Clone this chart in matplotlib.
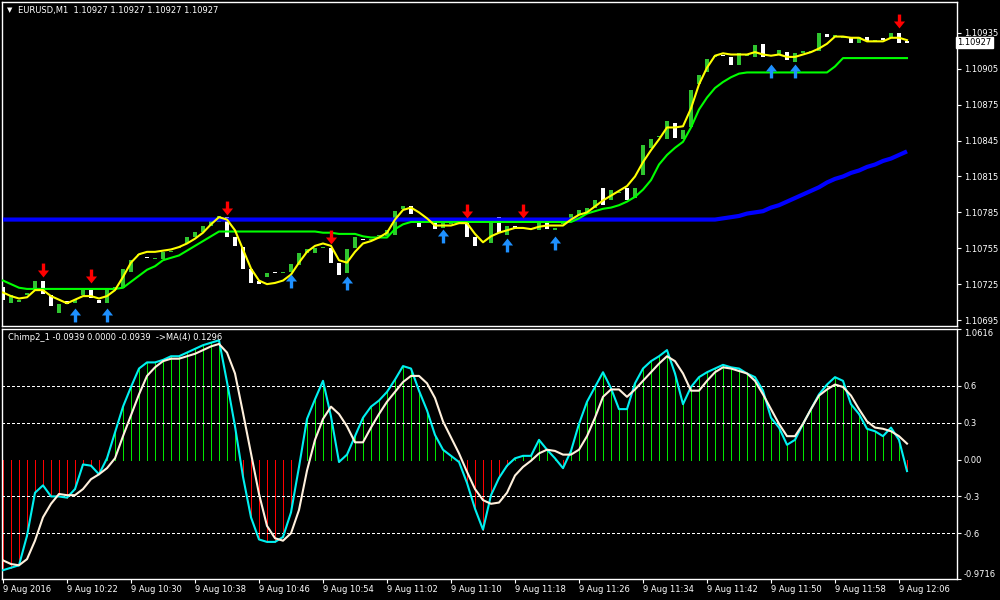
import numpy as np
import matplotlib.pyplot as plt
from matplotlib.path import Path

# EURUSD M1 chart with Chimp2 oscillator (MT4 style, black theme)

tick_labels = ['9 Aug 2016', '9 Aug 10:22', '9 Aug 10:30', '9 Aug 10:38', '9 Aug 10:46',
               '9 Aug 10:54', '9 Aug 11:02', '9 Aug 11:10', '9 Aug 11:18', '9 Aug 11:26',
               '9 Aug 11:34', '9 Aug 11:42', '9 Aug 11:50', '9 Aug 11:58', '9 Aug 12:06']

opens = [1.10723, 1.10709, 1.10710, 1.10716, 1.10721, 1.10728, 1.10716, 1.10701, 1.10711, 1.10709,
         1.10716, 1.10720, 1.10712, 1.10709, 1.10720, 1.10722, 1.10735, 1.10749, 1.10748, 1.10746,
         1.10746, 1.10752, 1.10755, 1.10759, 1.10764, 1.10769, 1.10774, 1.10777, 1.10781, 1.10764,
         1.10756, 1.10738, 1.10728, 1.10731, 1.10735, 1.10734, 1.10735, 1.10741, 1.10751, 1.10751,
         1.10755, 1.10755, 1.10743, 1.10734, 1.10755, 1.10763, 1.10762, 1.10765, 1.10765, 1.10766,
         1.10788, 1.10790, 1.10780, 1.10778, 1.10776, 1.10772, 1.10775, 1.10777, 1.10777, 1.10764,
         1.10760, 1.10759, 1.10781, 1.10766, 1.10774, 1.10771, 1.10771, 1.10770, 1.10777, 1.10770,
         1.10775, 1.10779, 1.10783, 1.10785, 1.10789, 1.10805, 1.10795, 1.10801, 1.10805, 1.10797,
         1.10816, 1.10839, 1.10848, 1.10846, 1.10860, 1.10846, 1.10856, 1.10892, 1.10902, 1.10915,
         1.10917, 1.10915, 1.10908, 1.10916, 1.10915, 1.10926, 1.10916, 1.10917, 1.10919, 1.10911,
         1.10918, 1.10919, 1.10920, 1.10934, 1.10932, 1.10931, 1.10932, 1.10927, 1.10932, 1.10928,
         1.10931, 1.10931, 1.10935, 1.10927]
closes = [1.10712, 1.10716, 1.10712, 1.10718, 1.10728, 1.10717, 1.10707, 1.10708, 1.10708, 1.10712,
          1.10720, 1.10713, 1.10709, 1.10721, 1.10723, 1.10738, 1.10745, 1.10750, 1.10747, 1.10747,
          1.10752, 1.10753, 1.10756, 1.10764, 1.10769, 1.10774, 1.10779, 1.10782, 1.10764, 1.10757,
          1.10738, 1.10726, 1.10725, 1.10734, 1.10734, 1.10735, 1.10742, 1.10751, 1.10754, 1.10755,
          1.10756, 1.10743, 1.10733, 1.10754, 1.10764, 1.10762, 1.10763, 1.10766, 1.10770, 1.10786,
          1.10790, 1.10784, 1.10773, 1.10777, 1.10771, 1.10777, 1.10776, 1.10778, 1.10764, 1.10757,
          1.10761, 1.10777, 1.10768, 1.10774, 1.10772, 1.10772, 1.10772, 1.10777, 1.10771, 1.10772,
          1.10776, 1.10784, 1.10787, 1.10789, 1.10795, 1.10791, 1.10804, 1.10802, 1.10795, 1.10805,
          1.10841, 1.10846, 1.10849, 1.10861, 1.10847, 1.10854, 1.10887, 1.10900, 1.10913, 1.10916,
          1.10916, 1.10908, 1.10918, 1.10917, 1.10925, 1.10915, 1.10917, 1.10921, 1.10912, 1.10918,
          1.10920, 1.10920, 1.10935, 1.10932, 1.10933, 1.10932, 1.10927, 1.10932, 1.10928, 1.10929,
          1.10929, 1.10935, 1.10927, 1.10927]

fast_ma = [1.10718, 1.10715, 1.10713, 1.10714, 1.10720, 1.10720, 1.10715, 1.10712, 1.10709, 1.10712,
           1.10715, 1.10715, 1.10713, 1.10715, 1.10720, 1.10731, 1.10743, 1.10750, 1.10752, 1.10752,
           1.10753, 1.10754, 1.10756, 1.10759, 1.10763, 1.10768, 1.10775, 1.10781, 1.10779, 1.10770,
           1.10754, 1.10738, 1.10728, 1.10725, 1.10726, 1.10728, 1.10733, 1.10743, 1.10752, 1.10757,
           1.10759, 1.10757, 1.10745, 1.10743, 1.10752, 1.10759, 1.10761, 1.10764, 1.10768, 1.10779,
           1.10787, 1.10789, 1.10785, 1.10780, 1.10774, 1.10774, 1.10774, 1.10776, 1.10776, 1.10767,
           1.10760, 1.10765, 1.10768, 1.10770, 1.10772, 1.10772, 1.10771, 1.10773, 1.10774, 1.10774,
           1.10774, 1.10779, 1.10783, 1.10785, 1.10790, 1.10795, 1.10799, 1.10803, 1.10807, 1.10815,
           1.10827, 1.10837, 1.10846, 1.10856, 1.10856, 1.10857, 1.10872, 1.10892, 1.10906, 1.10916,
           1.10918, 1.10917, 1.10917, 1.10917, 1.10919, 1.10917, 1.10916, 1.10917, 1.10915, 1.10915,
           1.10917, 1.10919, 1.10922, 1.10926, 1.10932, 1.10932, 1.10931, 1.10931, 1.10928, 1.10928,
           1.10928, 1.10931, 1.10931, 1.10929]

slow_line = [1.10728, 1.10725, 1.10722, 1.10721, 1.10721, 1.10721, 1.10721, 1.10721, 1.10721, 1.10721,
             1.10721, 1.10721, 1.10721, 1.10721, 1.10721, 1.10722, 1.10727, 1.10732, 1.10737, 1.10740,
             1.10745, 1.10747, 1.10749, 1.10753, 1.10757, 1.10761, 1.10765, 1.10769, 1.10769, 1.10769,
             1.10769, 1.10769, 1.10769, 1.10769, 1.10769, 1.10769, 1.10769, 1.10769, 1.10769, 1.10769,
             1.10768, 1.10768, 1.10767, 1.10767, 1.10767, 1.10765, 1.10764, 1.10764, 1.10764, 1.10771,
             1.10775, 1.10777, 1.10777, 1.10777, 1.10777, 1.10777, 1.10777, 1.10777, 1.10777, 1.10777,
             1.10777, 1.10777, 1.10777, 1.10777, 1.10777, 1.10777, 1.10777, 1.10777, 1.10777, 1.10777,
             1.10777, 1.10777, 1.10780, 1.10784, 1.10786, 1.10788, 1.10789, 1.10791, 1.10794, 1.10798,
             1.10804, 1.10812, 1.10825, 1.10833, 1.10839, 1.10844, 1.10856, 1.10871, 1.10881, 1.10889,
             1.10894, 1.10898, 1.10901, 1.10902, 1.10902, 1.10902, 1.10902, 1.10902, 1.10902, 1.10902,
             1.10902, 1.10902, 1.10902, 1.10902, 1.10907, 1.10914, 1.10914, 1.10914, 1.10914, 1.10914,
             1.10914, 1.10914, 1.10914, 1.10914]

long_ma = [1.10779, 1.10779, 1.10779, 1.10779, 1.10779, 1.10779, 1.10779, 1.10779, 1.10779, 1.10779,
           1.10779, 1.10779, 1.10779, 1.10779, 1.10779, 1.10779, 1.10779, 1.10779, 1.10779, 1.10779,
           1.10779, 1.10779, 1.10779, 1.10779, 1.10779, 1.10779, 1.10779, 1.10779, 1.10779, 1.10779,
           1.10779, 1.10779, 1.10779, 1.10779, 1.10779, 1.10779, 1.10779, 1.10779, 1.10779, 1.10779,
           1.10779, 1.10779, 1.10779, 1.10779, 1.10779, 1.10779, 1.10779, 1.10779, 1.10779, 1.10779,
           1.10779, 1.10779, 1.10779, 1.10779, 1.10779, 1.10779, 1.10779, 1.10779, 1.10779, 1.10779,
           1.10779, 1.10779, 1.10779, 1.10779, 1.10779, 1.10779, 1.10779, 1.10779, 1.10779, 1.10779,
           1.10779, 1.10779, 1.10779, 1.10779, 1.10779, 1.10779, 1.10779, 1.10779, 1.10779, 1.10779,
           1.10779, 1.10779, 1.10779, 1.10779, 1.10779, 1.10779, 1.10779, 1.10779, 1.10779, 1.10779,
           1.10780, 1.10781, 1.10782, 1.10784, 1.10785, 1.10786, 1.10789, 1.10791, 1.10794, 1.10797,
           1.10800, 1.10803, 1.10806, 1.10810, 1.10813, 1.10815, 1.10818, 1.10820, 1.10823, 1.10825,
           1.10828, 1.10830, 1.10833, 1.10836]

sell_bars = [5, 11, 28, 41, 58, 65, 112]
sell_prices = [1.10737, 1.10732, 1.10789, 1.10764, 1.10786, 1.10786, 1.10945]
buy_bars = [9, 13, 36, 43, 55, 63, 69, 96, 99]
buy_prices = [1.10699, 1.10699, 1.10728, 1.10726, 1.10765, 1.10758, 1.10759, 1.10903, 1.10903]

chimp = [-0.90, -0.88, -0.86, -0.62, -0.27, -0.21, -0.30, -0.30, -0.31, -0.24,
         -0.04, -0.05, -0.12, 0.01, 0.22, 0.43, 0.59, 0.74, 0.79, 0.79,
         0.81, 0.84, 0.84, 0.87, 0.90, 0.93, 0.95, 0.97, 0.63, 0.27,
         -0.14, -0.47, -0.65, -0.67, -0.67, -0.63, -0.43, -0.06, 0.33, 0.49,
         0.64, 0.35, -0.02, 0.04, 0.19, 0.34, 0.43, 0.48, 0.55, 0.65,
         0.76, 0.74, 0.56, 0.40, 0.20, 0.08, 0.03, -0.02, -0.19, -0.40,
         -0.57, -0.29, -0.15, -0.05, 0.01, 0.03, 0.03, 0.16, 0.08, 0.01,
         -0.07, 0.07, 0.29, 0.47, 0.59, 0.71, 0.58, 0.41, 0.41, 0.62,
         0.74, 0.80, 0.84, 0.89, 0.70, 0.45, 0.59, 0.67, 0.71, 0.74,
         0.77, 0.75, 0.74, 0.70, 0.67, 0.56, 0.34, 0.26, 0.12, 0.16,
         0.29, 0.41, 0.53, 0.61, 0.67, 0.64, 0.45, 0.37, 0.25, 0.23,
         0.19, 0.26, 0.16, -0.0939]
chimp_ma = [-0.82, -0.85, -0.86, -0.81, -0.66, -0.47, -0.36, -0.28, -0.29, -0.29,
            -0.24, -0.16, -0.12, -0.07, 0.01, 0.19, 0.36, 0.53, 0.68, 0.75,
            0.80, 0.82, 0.82, 0.84, 0.86, 0.89, 0.92, 0.94, 0.87, 0.70,
            0.38, 0.05, -0.28, -0.54, -0.64, -0.66, -0.60, -0.41, -0.09, 0.16,
            0.33, 0.43, 0.37, 0.27, 0.14, 0.14, 0.26, 0.37, 0.47, 0.55,
            0.63, 0.68, 0.68, 0.62, 0.50, 0.31, 0.18, 0.05, -0.10, -0.24,
            -0.33, -0.36, -0.35, -0.27, -0.13, -0.06, -0.01, 0.05, 0.08, 0.07,
            0.04, 0.04, 0.08, 0.19, 0.34, 0.51, 0.57, 0.57, 0.51, 0.57,
            0.64, 0.71, 0.78, 0.84, 0.80, 0.70, 0.56, 0.56, 0.64, 0.71,
            0.75, 0.74, 0.72, 0.70, 0.64, 0.53, 0.41, 0.29, 0.19, 0.19,
            0.29, 0.41, 0.52, 0.57, 0.61, 0.59, 0.52, 0.41, 0.31, 0.26,
            0.25, 0.23, 0.19, 0.1296]

price_ticks = [1.10695, 1.10725, 1.10755, 1.10785, 1.10815, 1.10845, 1.10875, 1.10905, 1.10935]
last_price = 1.10927

plt.rcParams['font.family'] = ['DejaVu Sans']
FS = 6

x = np.arange(len(closes))
o = np.array(opens)
c = np.array(closes)

fig = plt.figure(figsize=(10, 6), dpi=100, facecolor='black')
ax1 = fig.add_axes([0.002, 1 - 326 / 600, 0.955, 324 / 600], facecolor='black')
ax2 = fig.add_axes([0.002, 1 - 579 / 600, 0.955, 250 / 600], facecolor='black')

for ax in (ax1, ax2):
    for s in ax.spines.values():
        s.set_color('white')
        s.set_linewidth(1)
    ax.set_xlim(-0.125, 119.25)
    ax.yaxis.tick_right()
    ax.tick_params(axis='y', colors='white', labelsize=FS, length=3, width=0.8, pad=2)
    ax.tick_params(axis='x', colors='white', labelsize=FS, length=3, width=0.8, pad=1)

# candles
bull = c > o
bodies = np.maximum(np.abs(c - o), 0.00001)
ax1.bar(x, bodies, bottom=np.minimum(o, c), width=0.4,
        color=np.where(bull, '#2fc52f', '#ffffff'), linewidth=0, zorder=2)

ax1.plot(x, long_ma, color='#0000ff', lw=3, zorder=3, solid_capstyle='butt')
ax1.plot(x, slow_line, color='#00ff00', lw=1.5, zorder=4)
ax1.plot(x, fast_ma, color='#ffff00', lw=1.5, zorder=5)

down_arrow = Path([(-0.12, 0.5), (0.12, 0.5), (0.12, 0.0), (0.4, 0.0), (0, -0.5),
                   (-0.4, 0.0), (-0.12, 0.0), (-0.12, 0.5)], closed=True)
up_arrow = Path([(-0.12, -0.5), (0.12, -0.5), (0.12, 0.0), (0.4, 0.0), (0, 0.5),
                 (-0.4, 0.0), (-0.12, 0.0), (-0.12, -0.5)], closed=True)
ax1.plot(sell_bars, sell_prices, linestyle='none', marker=down_arrow, markersize=10,
         color='#ff0000', markeredgewidth=0, zorder=6)
ax1.plot(buy_bars, buy_prices, linestyle='none', marker=up_arrow, markersize=10,
         color='#1e90ff', markeredgewidth=0, zorder=6)

ax1.set_ylim(1.1069, 1.109609)
ax1.set_yticks(price_ticks)
ax1.set_yticklabels(['%.5f' % p for p in price_ticks])
ax1.set_xticks([])
ax1.text(1.0, last_price, '%.5f' % last_price, transform=ax1.get_yaxis_transform(),
         ha='left', va='center', fontsize=FS, color='black',
         bbox=dict(boxstyle='square,pad=0.15', facecolor='white', edgecolor='white'))
ax1.plot([1.0, 1.004], [last_price, last_price], color='white', lw=0.8,
         transform=ax1.get_yaxis_transform(), clip_on=False)

fig.text(0.007, 1 - 10 / 600, '\u25bc', color='white', fontsize=5, va='center')
fig.text(0.018, 1 - 10 / 600, 'EURUSD,M1  1.10927 1.10927 1.10927 1.10927',
         color='white', fontsize=FS, va='center')

# oscillator panel
ch = np.array(chimp)
ax2.vlines(x, 0, ch, colors=np.where(ch >= 0, '#00e600', '#ff0000'), lw=0.5,
           antialiased=False, zorder=1)
for lv in (0.6, 0.3, -0.3, -0.6):
    ax2.axhline(lv, color='white', lw=0.5, dashes=(4, 4), antialiased=False, zorder=1)
ax2.plot(x, chimp, color='#00f0f0', lw=1.5, zorder=3)
ax2.plot(x, chimp_ma, color='#fff0dc', lw=1.5, zorder=4)

ax2.set_ylim(-0.9716, 1.0616)
ax2.set_yticks([1.0616, 0.6, 0.3, 0.0, -0.3, -0.6, -0.9716])
ax2.set_yticklabels(['1.0616', '0.6', '0.3', '0.00', '-0.3', '-0.6', '-0.9716'])
labs = ax2.get_yticklabels()
labs[0].set_va('top')
labs[-1].set_va('bottom')
ax2.set_xticks(range(0, 113, 8))
ax2.set_xticklabels(tick_labels, ha='left')

fig.text(0.008, 1 - 338 / 600, 'Chimp2_1 -0.0939 0.0000 -0.0939  ->MA(4) 0.1296',
         color='white', fontsize=FS, va='center')

fig.savefig('out.png', dpi=100, facecolor='black')
